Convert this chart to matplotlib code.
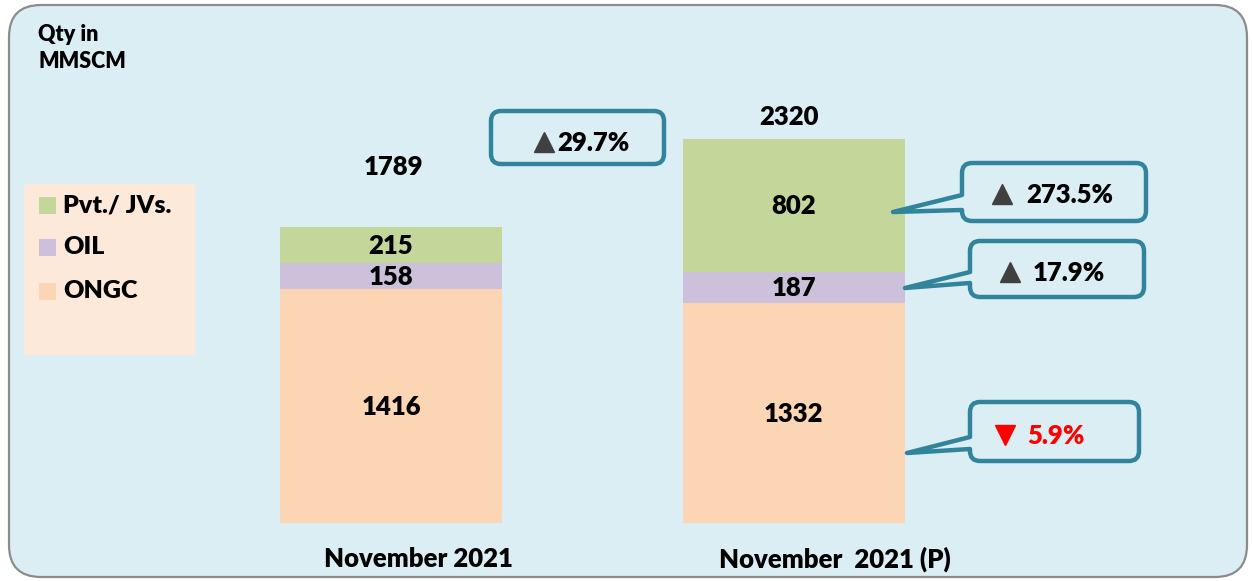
import matplotlib
matplotlib.use("Agg")
import matplotlib.pyplot as plt
from matplotlib.patches import FancyBboxPatch, PathPatch, Rectangle
from matplotlib.path import Path
from matplotlib.transforms import Affine2D

# ---------------- data ----------------
categories = ["November 2021", "November  2021 (P)"]
ongc = [1416, 1332]
oil = [158, 187]
pvt = [215, 802]
totals = [1789, 2320]
series_names = ["Pvt./ JVs.", "OIL", "ONGC"]
growth_total = "29.7%"
growth_pvt = "273.5%"
growth_oil = "17.9%"
growth_ongc = "5.9%"
unit_label = "Qty in\nMMSCM"

# ---------------- style ----------------
C_PVT = "#C4D79B"
C_OIL = "#CCC0DA"
C_ONGC = "#FCD5B4"
C_BG = "#DAEEF3"
C_LEG = "#FDE9D9"
C_CALL = "#31849B"
FONT = ["Lato", "DejaVu Sans"]
WT = "heavy"

W, H = 1252, 581
fig = plt.figure(figsize=(W / 100, H / 100), dpi=100)
fig.patch.set_facecolor("white")
ax = fig.add_axes([0, 0, 1, 1])
ax.axis("off")

# scale: bar centres at px 391 / 793.5, baseline at px 523, 0.1655 px per unit
px_per_x = 402.5
px_per_y = 0.1655
ax.set_xlim(-391 / px_per_x, 1 + (W - 793.5) / px_per_x)
ax.set_ylim(-(H - 523) / px_per_y, 523 / px_per_y)

# pixel transform (origin top-left, y down)
tpx = Affine2D().scale(1 / W, -1 / H).translate(0, 1) + fig.transFigure

# outer background
bg = FancyBboxPatch((9, 5), 1238, 572, boxstyle="round,pad=0,rounding_size=32",
                    transform=tpx, facecolor=C_BG, edgecolor="#8C8C8C", lw=1.6, zorder=0)
ax.add_patch(bg)

# bars
x = list(range(len(categories)))
bw = 222 / px_per_x
bottom_oil = ongc
bottom_pvt = [a + b for a, b in zip(ongc, oil)]
ax.bar(x, ongc, bw, color=C_ONGC, zorder=2)
ax.bar(x, oil, bw, bottom=bottom_oil, color=C_OIL, zorder=2)
ax.bar(x, pvt, bw, bottom=bottom_pvt, color=C_PVT, zorder=2)

fs = 18.5
for i in x:
    ax.text(i, ongc[i] / 2 - 8, str(ongc[i]), ha="center", va="center", fontsize=fs,
            fontweight=WT, family=FONT, zorder=3)
    ax.text(i, bottom_oil[i] + oil[i] / 2 - 6, str(oil[i]), ha="center", va="center",
            fontsize=fs, fontweight=WT, family=FONT, zorder=3)
    ax.text(i, bottom_pvt[i] + pvt[i] / 2 - 6, str(pvt[i]), ha="center", va="center",
            fontsize=fs, fontweight=WT, family=FONT, zorder=3)

# totals
total_offsets = [(2, 43), (-3, 16)]
for i in x:
    ax.annotate(str(totals[i]), (i, totals[i]), xytext=total_offsets[i],
                textcoords="offset points", ha="center", va="center",
                fontsize=fs, fontweight=WT, family=FONT, zorder=3)

# category labels
cat_px = [418, 835]
for i in x:
    ax.text(cat_px[i], 559, categories[i], transform=tpx, ha="center", va="center",
            fontsize=fs, fontweight=WT, family=FONT, zorder=3)

# unit label
ax.text(38, 48, unit_label, transform=tpx, ha="left", va="center", fontsize=15.5,
        fontweight=WT, family=FONT, linespacing=1.4, zorder=3)

# legend
ax.add_patch(Rectangle((24, 184), 171, 171, transform=tpx, facecolor=C_LEG,
                       edgecolor="none", zorder=1))
leg_colors = [C_PVT, C_OIL, C_ONGC]
leg_y = [205, 247, 291]
for name, col, yy in zip(series_names, leg_colors, leg_y):
    ax.add_patch(Rectangle((39, yy - 8.5), 17, 17, transform=tpx, facecolor=col,
                           edgecolor="none", zorder=2))
    ax.text(63, yy, name, transform=tpx, ha="left", va="center", fontsize=18,
            fontweight=WT, family=FONT, zorder=3)


def callout(x0, y0, x1, y1, tail=None, r=10):
    verts, codes = [], []
    def mv(p): verts.append(p); codes.append(Path.MOVETO)
    def ln(p): verts.append(p); codes.append(Path.LINETO)
    def cv(c, p): verts.extend([c, p]); codes.extend([Path.CURVE3, Path.CURVE3])
    mv((x0 + r, y0))
    ln((x1 - r, y0)); cv((x1, y0), (x1, y0 + r))
    ln((x1, y1 - r)); cv((x1, y1), (x1 - r, y1))
    ln((x0 + r, y1)); cv((x0, y1), (x0, y1 - r))
    if tail is not None:
        t_top, t_bot, tip = tail
        ln((x0, t_bot)); ln(tip); ln((x0, t_top))
    ln((x0, y0 + r)); cv((x0, y0), (x0 + r, y0))
    verts.append((x0 + r, y0)); codes.append(Path.CLOSEPOLY)
    p = PathPatch(Path(verts, codes), transform=tpx, facecolor=C_BG, edgecolor=C_CALL,
                  lw=3.2, joinstyle="round", zorder=4)
    ax.add_patch(p)


def tri(xc, yc, up=True, color="#404040"):
    ax.plot([xc], [yc], marker="^" if up else "v", ms=14.5, color=color,
            mec=color, transform=tpx, zorder=5, clip_on=False)


# total growth
callout(491, 111, 664, 164)
tri(544, 142)
ax.text(557, 143, growth_total, transform=tpx, ha="left", va="center", fontsize=fs,
        fontweight=WT, family=FONT, zorder=5)

# pvt growth
callout(962, 163, 1146, 221, tail=(195, 210, (893, 212)))
tri(1002, 194)
ax.text(1026, 195, growth_pvt, transform=tpx, ha="left", va="center", fontsize=fs,
        fontweight=WT, family=FONT, zorder=5)

# oil growth
callout(970, 241, 1144, 297, tail=(272, 283, (905, 288)))
tri(1010, 272)
ax.text(1033, 273, growth_oil, transform=tpx, ha="left", va="center", fontsize=fs,
        fontweight=WT, family=FONT, zorder=5)

# ongc growth
callout(970, 402, 1139, 461, tail=(437, 449, (907, 453)))
tri(1005, 435, up=False, color="#FF0000")
ax.text(1027, 436, growth_ongc, transform=tpx, ha="left", va="center", fontsize=fs,
        fontweight=WT, family=FONT, color="#FF0000", zorder=5)

fig.savefig("out.png", dpi=100)
